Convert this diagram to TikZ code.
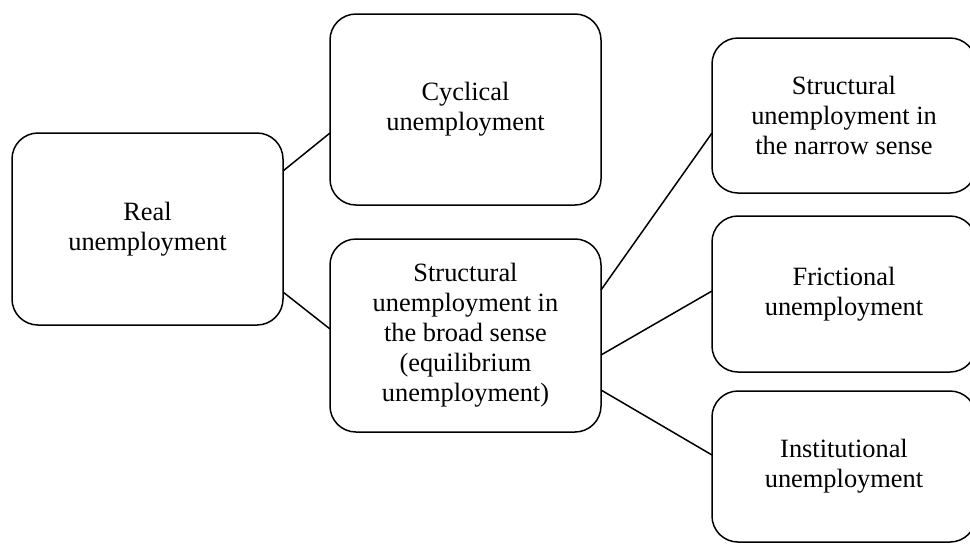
\documentclass[tikz,border=0pt]{standalone}
\usepackage{fontspec}
\setmainfont{Liberation Serif}
\begin{document}
\begin{tikzpicture}[x=0.5pt,y=-0.5pt,
  unbox/.style={draw,line width=0.75pt,rounded corners=13pt,align=center,inner sep=0pt,outer sep=0pt,font=\fontsize{13.2}{15}\selectfont},
  leftbox/.style={unbox,minimum width=135.5pt},
  rightbox/.style={unbox,minimum width=132pt},
  link/.style={line width=0.75pt}]
\clip (0,0) rectangle (970,543);
% left column
\node[leftbox,minimum height=96pt] (real) at (147.5,229) {Real\\unemployment};
% middle column
\node[leftbox,minimum height=95.5pt] (cyc) at (465.5,109.5) {Cyclical\\unemployment};
\node[leftbox,minimum height=96.5pt] (broad) at (465.5,335.5) {Structural\\unemployment in\\the broad sense\\(equilibrium\\unemployment)};
% right column
\node[rightbox,minimum height=77.5pt] (narrow) at (844,115.5) {Structural\\unemployment in\\the narrow sense};
\node[rightbox,minimum height=78pt] (fric) at (844,294) {Frictional\\unemployment};
\node[rightbox,minimum height=75.5pt] (inst) at (844,466.5) {Institutional\\unemployment};
% links
\draw[link] ([yshift=29pt]real.east) -- ([yshift=-11.75pt]cyc.west);
\draw[link] ([yshift=-31.5pt]real.east) -- ([yshift=3.25pt]broad.west);
\draw[link] ([yshift=22.75pt]broad.east) -- ([yshift=-8.75pt]narrow.west);
\draw[link] ([yshift=-9.75pt]broad.east) -- ([yshift=1.5pt]fric.west);
\draw[link] ([yshift=-27.25pt]broad.east) -- ([yshift=5.75pt]inst.west);
\end{tikzpicture}
\end{document}
